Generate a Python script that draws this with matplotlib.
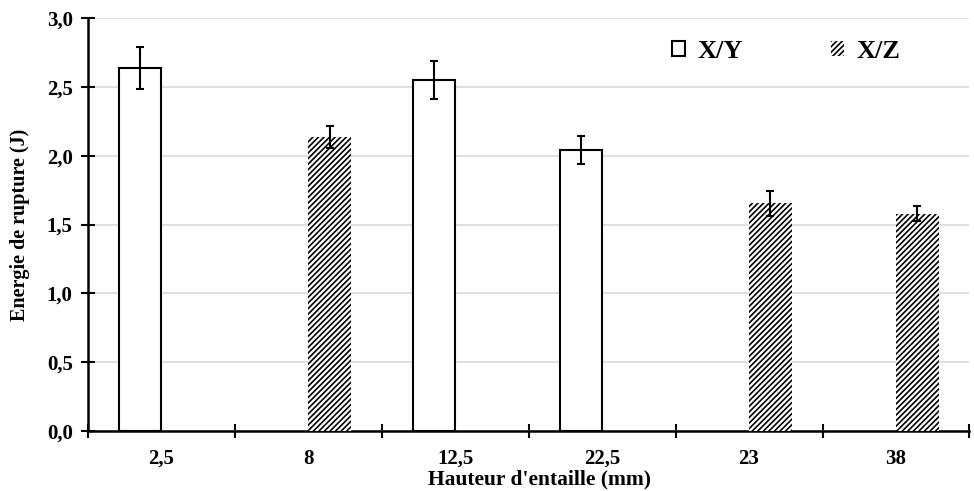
import matplotlib
matplotlib.use("Agg")
import matplotlib.pyplot as plt
import numpy as np
from matplotlib.patches import Patch

categories = ["2,5", "8", "12,5", "22,5", "23", "38"]
xy_values = [2.635, 0, 2.548, 2.041, 0, 0]
xy_errors = [0.152, 0, 0.138, 0.103, 0, 0]
xz_values = [0, 2.135, 0, 0, 1.653, 1.578]
xz_errors = [0, 0.08, 0, 0, 0.09, 0.055]
yticks = [0.0, 0.5, 1.0, 1.5, 2.0, 2.5, 3.0]
ytick_labels = ["0,0", "0,5", "1,0", "1,5", "2,0", "2,5", "3,0"]

plt.rcParams['font.family'] = ['Liberation Serif', 'DejaVu Serif']
plt.rcParams['font.weight'] = 'bold'
plt.rcParams['hatch.linewidth'] = 1.2

fig = plt.figure(figsize=(9.74, 4.91), dpi=100)
ax = fig.add_axes([0.0903, 0.1222, 0.905, 0.8411])

x = np.arange(len(categories))
w = 0.29
xy_idx = [i for i, v in enumerate(xy_values) if v > 0]
xz_idx = [i for i, v in enumerate(xz_values) if v > 0]

ax.bar(x[xy_idx] - w / 2, [xy_values[i] for i in xy_idx], width=w,
       facecolor='white', edgecolor='black', linewidth=1.5, zorder=3)
ax.errorbar(x[xy_idx] - w / 2, [xy_values[i] for i in xy_idx],
            yerr=[xy_errors[i] for i in xy_idx], fmt='none', ecolor='black',
            elinewidth=1.5, capsize=3, capthick=1.5, zorder=4)
ax.bar(x[xz_idx] + w / 2, [xz_values[i] for i in xz_idx], width=w,
       facecolor='white', edgecolor='black', linewidth=0, hatch='//////', zorder=3)
ax.errorbar(x[xz_idx] + w / 2, [xz_values[i] for i in xz_idx],
            yerr=[xz_errors[i] for i in xz_idx], fmt='none', ecolor='black',
            elinewidth=1.5, capsize=3, capthick=1.5, zorder=4)

ax.set_xlim(-0.5, len(categories) - 0.5)
ax.set_ylim(0, 3.0)
ax.set_yticks(yticks)
ax.set_yticklabels(ytick_labels, fontsize=15, fontweight='bold')
ax.set_xticks(x)
ax.set_xticklabels(categories, fontsize=15, fontweight='bold')
ax.set_xticks(np.arange(len(categories) + 1) - 0.5, minor=True)
ax.tick_params(axis='x', which='major', length=0, pad=13)
ax.tick_params(axis='x', which='minor', direction='inout', length=10, width=1.5)
ax.tick_params(axis='y', direction='inout', length=10, width=1.5, pad=6)

ax.yaxis.grid(True, color='#d9d9d9', linewidth=1.2, zorder=0)
ax.set_axisbelow(True)
for s in ['top', 'right']:
    ax.spines[s].set_visible(False)
for s in ['left', 'bottom']:
    ax.spines[s].set_linewidth(1.8)

ax.set_ylabel("Energie de rupture (J)", fontsize=14.5, fontweight='bold')
ax.yaxis.set_label_coords(-0.066, 0.5)
ax.set_xlabel("Hauteur d'entaille (mm)", fontsize=15.5, fontweight='bold')
ax.xaxis.set_label_coords(0.512, -0.092)

handles = [Patch(facecolor='white', edgecolor='black', linewidth=1.5),
           Patch(facecolor='white', edgecolor='black', linewidth=0, hatch='//////')]
leg = ax.legend(handles, ["X/Y", "X/Z"], loc='center left',
                bbox_to_anchor=(672 / 974, 1 - 51 / 491), bbox_transform=fig.transFigure,
                ncol=2, frameon=False, prop={'size': 19, 'weight': 'bold'},
                handlelength=0.5, handleheight=0.5, columnspacing=3.35,
                handletextpad=0.45, borderpad=0, borderaxespad=0)

fig.savefig("out.png", dpi=100)
